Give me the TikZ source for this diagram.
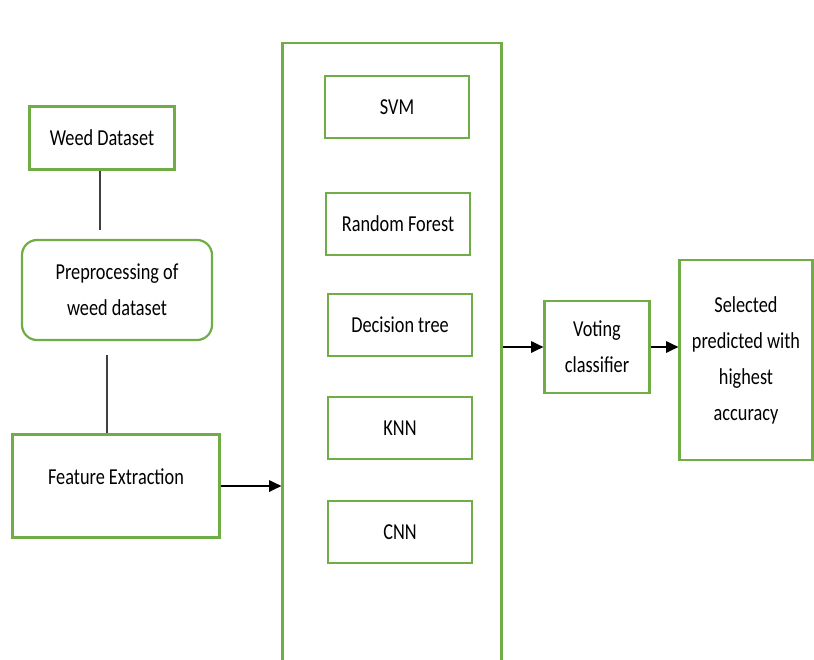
\documentclass[tikz,border=0pt]{standalone}
\usepackage{fontspec}
\setmainfont{Carlito}[FakeStretch=0.8]
\usetikzlibrary{arrows.meta,positioning}
\definecolor{boxgreen}{RGB}{112,173,71}

\begin{document}
\begin{tikzpicture}[x=0.02cm, y=-0.02cm,
  box/.style={draw=boxgreen, line width=1.25pt, align=center,
    font=\fontsize{13}{20.5}\selectfont, inner sep=2pt},
  model/.style={box, minimum width=2.88cm, minimum height=1.24cm},
  link/.style={draw=black!75, line width=0.6pt},
  flow/.style={-{Triangle[length=7pt,width=6.5pt]}, line width=0.9pt}]
  \useasboundingbox (0,0) rectangle (814,659);

  % input side
  \node[box, minimum width=2.9cm, minimum height=1.26cm] (weed) at (102,138) {Weed Dataset};
  \node[box, rounded corners=0.3cm, minimum width=3.8cm, minimum height=2cm]
    (prep) at (117,290) {Preprocessing of\\weed dataset};
  \node[box, minimum width=4.14cm, minimum height=2.06cm] (feat) at (116,486) {Feature Extraction\\[-0.36cm]};

  % classifiers
  \node[box, minimum width=4.38cm, minimum height=12.6cm] (models) at (392,358) {};
  \node[model] (svm) at (397,107) {SVM};
  \node[model] (rf)  at (398,224) {Random Forest};
  \node[model] (dt)  at (400,325) {Decision tree};
  \node[model] (knn) at (400,428) {KNN};
  \node[model] (cnn) at (400,532) {CNN};

  % output side
  \node[box, minimum width=2.1cm, minimum height=1.84cm] (vote) at (597,347) {Voting\\classifier};
  \node[box, minimum width=2.66cm, minimum height=4cm] (best) at (746,360)
    {Selected\\predicted with\\highest\\accuracy};

  \draw[link, shorten >=5pt] ([xshift=-0.04cm]weed.south) -- ([xshift=-0.04cm]weed.south |- prep.north);
  \draw[link, shorten <=8pt] ([xshift=-0.2cm]prep.south) -- ([xshift=-0.2cm]prep.south |- feat.north);
  \draw[flow] (feat.east) -- (feat.east -| models.west);
  \draw[flow] (models.east |- vote.west) -- (vote.west);
  \draw[flow] (vote.east) -- (best.west |- vote.east);
\end{tikzpicture}
\end{document}
